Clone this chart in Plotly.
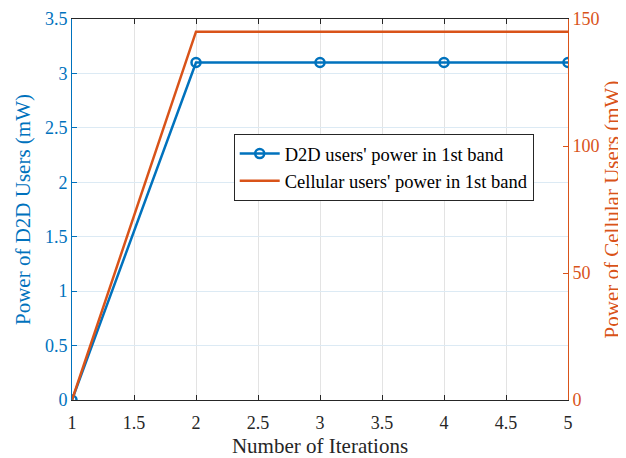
import plotly.graph_objects as go

iterations = [1, 2, 3, 4, 5]
d2d_power = [0, 3.1, 3.1, 3.1, 3.1]
cell_power = [0, 145, 145, 145, 145]

BLUE = "#0072BD"
ORANGE = "#D95319"
FONT = "Liberation Serif"

fig = go.Figure()
fig.add_trace(go.Scatter(
    x=iterations, y=d2d_power, name="D2D users' power in 1st band",
    mode="lines+markers", line=dict(color=BLUE, width=2.5),
    marker=dict(symbol="circle-open", size=9, color=BLUE, line=dict(width=2.5)),
    yaxis="y", cliponaxis=True))
fig.add_trace(go.Scatter(
    x=iterations, y=cell_power, name="Cellular users' power in 1st band",
    mode="lines", line=dict(color=ORANGE, width=2.5), yaxis="y2", cliponaxis=True))

# page body has an 8px default margin, so the figure is sized 618x450
fig.update_layout(
    width=618, height=450,
    margin=dict(l=64, r=58, t=11, b=58),
    paper_bgcolor="white", plot_bgcolor="white",
    font=dict(family=FONT, size=18, color="#262626"),
    showlegend=True,
    legend=dict(x=0.326, y=0.698, xanchor="left", yanchor="top",
                bgcolor="white", bordercolor="#262626", borderwidth=1,
                font=dict(size=18.5, family=FONT, color="black"),
                tracegroupgap=0, itemwidth=40),
    xaxis=dict(range=[1, 5], dtick=0.5, tick0=1, automargin=False,
               title=dict(text="Number of Iterations", font=dict(size=21, family=FONT), standoff=8),
               showline=True, linecolor="#262626", linewidth=1, mirror="ticks",
               ticks="inside", ticklen=5, tickcolor="#262626", ticklabelstandoff=6,
               showgrid=True, gridcolor="#e3e3e3", zeroline=False,
               tickfont=dict(size=18, color="#262626", family=FONT)),
    yaxis=dict(range=[0, 3.5], dtick=0.5, tick0=0, automargin=False,
               title=dict(text="Power of D2D Users (mW)", font=dict(size=21, color=BLUE, family=FONT), standoff=8),
               showline=True, linecolor=BLUE, linewidth=1,
               ticks="inside", ticklen=5, tickcolor=BLUE,
               showgrid=True, gridcolor="#dceaf4", zeroline=False,
               tickfont=dict(size=18, color=BLUE, family=FONT)),
    yaxis2=dict(range=[0, 150], dtick=50, tick0=0, overlaying="y", side="right", automargin=False,
                title=dict(text="Power of Cellular Users (mW)", font=dict(size=21, color=ORANGE, family=FONT), standoff=4),
                showline=True, linecolor=ORANGE, linewidth=1,
                ticks="inside", ticklen=5, tickcolor=ORANGE,
                showgrid=False, zeroline=False,
                tickfont=dict(size=18, color=ORANGE, family=FONT)),
)

fig.write_html("out.html")
